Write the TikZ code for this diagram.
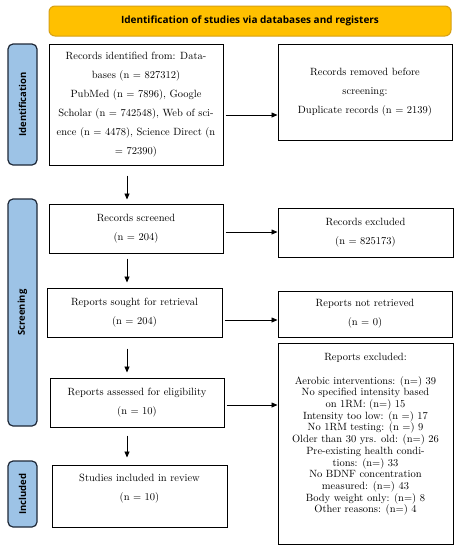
\documentclass[tikz,border=0pt]{standalone}
\usepackage{fontspec}
\usepackage{xcolor}
\usetikzlibrary{arrows.meta}
\newfontfamily\labelfont{Open Sans}
\definecolor{bannerorange}{RGB}{255,192,0}
\definecolor{bannerline}{RGB}{214,160,20}
\definecolor{phaseblue}{RGB}{157,195,230}
\definecolor{phaseline}{RGB}{30,40,55}

\begin{document}
\begin{tikzpicture}[
    x=1pt, y=-1pt,
    box/.style={draw=black, line width=1pt, align=center, inner sep=2pt,
      font=\fontsize{10.5}{19}\selectfont},
    phase/.style={draw=phaseline, fill=phaseblue, line width=1.2pt,
      rounded corners=5pt, rotate=90, minimum height=29pt,
      font=\labelfont\bfseries\fontsize{9.5}{11}\selectfont},
    link/.style={-{Triangle[length=6pt,width=5pt]}, line width=0.8pt},
  ]
    \useasboundingbox (0,0) rectangle (459,550);

    % banner
    \node[draw=bannerline, fill=bannerorange, line width=1pt, rounded corners=6pt,
      minimum width=402pt, minimum height=30pt,
      font=\labelfont\bfseries\fontsize{10}{12}\selectfont]
      (banner) at (250,21) {Identification of studies via databases and registers};

    % phases
    \node[phase, minimum width=121pt] (identification) at (22.5,104.5) {Identification};
    \node[phase, minimum width=227pt] (screening) at (22.5,312.5) {Screening};
    \node[phase, minimum width=66pt] (included) at (22.5,494) {Included};

    % left column
    \node[box, minimum width=174pt, minimum height=121pt] (idrec) at (136,104.5)
      {Records identified from: Data-\\bases (n = 827312)\\PubMed (n = 7896), Google\\
       Scholar (n = 742548), Web of sci-\\ence (n = 4478), Science Direct (n\\= 72390)};
    \node[box, minimum width=174pt, minimum height=49pt] (screened) at (136,228.5)
      {Records screened\\(n = 204)};
    \node[box, minimum width=175pt, minimum height=49pt] (sought) at (134.5,312.5)
      {Reports sought for retrieval\\(n = 204)};
    \node[box, minimum width=174pt, minimum height=49pt] (assessed) at (137,402.5)
      {Reports assessed for eligibility\\(n = 10)};
    \node[box, minimum width=175pt, minimum height=62pt] (studies) at (139.5,496)
      {Studies included in review\\(n = 10)\rule[-18pt]{0pt}{0pt}};

    % right column
    \node[box, minimum width=174pt, minimum height=96pt] (dup) at (365,92)
      {Records removed before\\screening:\\Duplicate records (n = 2139)};
    \node[box, minimum width=175pt, minimum height=49pt] (excluded) at (365.5,232.5)
      {Records excluded\\(n = 825173)};
    \node[box, minimum width=174pt, minimum height=46pt] (notretr) at (365,314)
      {Reports not retrieved\\(n = 0)};
    \node[box, minimum width=175pt, minimum height=201pt, font=\fontsize{10.5}{11.7}\selectfont]
      (repexcl) at (365.5,443.5)
      {Reports excluded:\\[12pt]
       Aerobic interventions: (n=) 39\\
       No specified intensity based\\on 1RM: (n=) 15\\
       Intensity too low: (n =) 17\\
       No 1RM testing: (n =) 9\\
       Older than 30 yrs. old: (n=) 26\\
       Pre-existing health condi-\\tions: (n=) 33\\
       No BDNF concentration\\measured: (n=) 43\\
       Body weight only: (n=) 8\\
       Other reasons: (n=) 4\rule[-21pt]{0pt}{0pt}};

    % arrows down
    \coordinate (spine) at (127,0);
    \draw[link, shorten <=10pt, shorten >=4pt] (idrec.south -| spine) -- (screened.north -| spine);
    \draw[link, shorten <=5pt, shorten >=5pt] (screened.south -| spine) -- (sought.north -| spine);
    \draw[link, shorten <=11pt, shorten >=5pt] (sought.south -| spine) -- (assessed.north -| spine);
    \draw[link, shorten <=8pt, shorten >=7pt] (assessed.south -| spine) -- (studies.north -| spine);

    % arrows across
    \draw[link, shorten <=2pt] ([yshift=-10.5pt]idrec.east) -- ([yshift=-10.5pt]idrec.east -| dup.west);
    \draw[link, shorten <=2pt] ([yshift=-3.5pt]screened.east) -- ([yshift=-3.5pt]screened.east -| excluded.west);
    \draw[link, shorten <=2pt] ([yshift=-7.5pt]sought.east) -- ([yshift=-7.5pt]sought.east -| notretr.west);
    \draw[link, shorten <=2pt] ([yshift=-2.5pt]assessed.east) -- ([yshift=-2.5pt]assessed.east -| repexcl.west);
    %\draw[link] (notretr.south) -- (repexcl.north);
\end{tikzpicture}
\end{document}
